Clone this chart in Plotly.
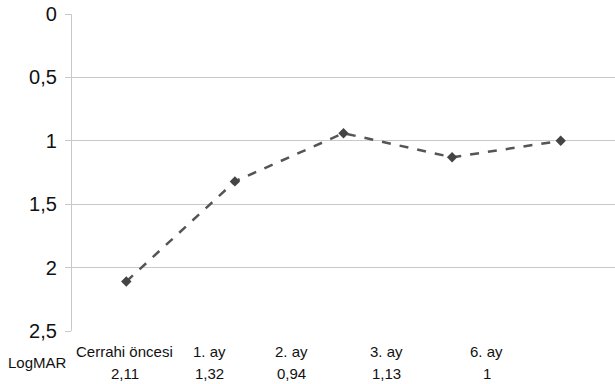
import plotly.graph_objects as go

categories = ["Cerrahi öncesi", "1. ay", "2. ay", "3. ay", "6. ay"]
logmar = [2.11, 1.32, 0.94, 1.13, 1.0]
row_label = "LogMAR"
y_ticks = [0, 0.5, 1, 1.5, 2, 2.5]
y_tick_text = ["0", "0,5", "1", "1,5", "2", "2,5"]

# horizontal positions (paper fraction) of the data-table label columns
label_x = [0.0976, 0.254, 0.405, 0.580, 0.764]

fig = go.Figure()
fig.add_trace(go.Scatter(
    x=list(range(len(categories))), y=logmar,
    mode="lines+markers",
    line=dict(color="#555555", width=2.5, dash="dash"),
    marker=dict(symbol="diamond", size=8, color="#444444"),
    showlegend=False, hoverinfo="x+y",
))

lab_font = dict(family="Liberation Sans, Arial, sans-serif", size=15, color="#111111")
ann = []
for cx, c, v in zip(label_x, categories, logmar):
    ann.append(dict(x=cx, y=-0.066, xref="paper", yref="paper", text=c,
                    showarrow=False, font=lab_font, xanchor="center", yanchor="middle"))
    ann.append(dict(x=cx, y=-0.1325, xref="paper", yref="paper",
                    text=f"{v:g}".replace(".", ","),
                    showarrow=False, font=lab_font, xanchor="center", yanchor="middle"))
ann.append(dict(x=-0.0635, y=-0.099, xref="paper", yref="paper", text=row_label,
                showarrow=False, font=lab_font, xanchor="center", yanchor="middle"))

fig.update_layout(
    width=615, height=384,
    margin=dict(l=72, r=0, t=14, b=53),
    paper_bgcolor="white", plot_bgcolor="white",
    xaxis=dict(range=[-0.5, len(categories) - 0.5], showticklabels=False,
               showgrid=False, zeroline=False, showline=False, fixedrange=True),
    yaxis=dict(range=[2.5, 0], tickvals=y_ticks, ticktext=y_tick_text,
               showgrid=True, gridcolor="#c9c9c9", gridwidth=1.3,
               zeroline=False, showline=True, linecolor="#c9c9c9", linewidth=1.3,
               ticks="outside", ticklen=6, tickcolor="#c9c9c9",
               tickfont=dict(family="Liberation Sans, Arial, sans-serif", size=20, color="#111111"),
               ticklabelstandoff=4, fixedrange=True),
    annotations=ann,
)

fig.write_html("out.html", config={"displayModeBar": False},
               post_script="document.body.style.margin='0px';document.body.style.overflow='hidden';")
